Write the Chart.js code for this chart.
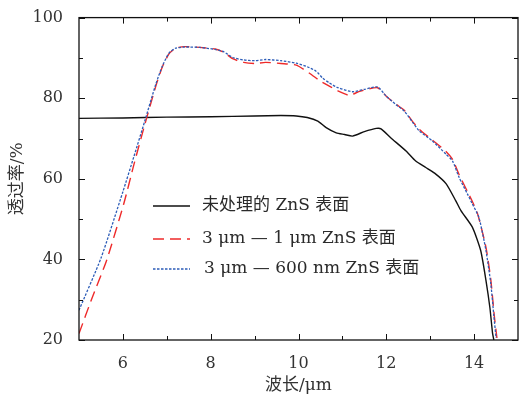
<!DOCTYPE html>
<html>
<head>
<meta charset="utf-8">
<script src="https://cdn.jsdelivr.net/npm/chart.js@4/dist/chart.umd.min.js"></script>
<style>
  body { margin: 0; background: #fff; }
  #wrap { width: 523px; height: 399px; }
</style>
</head>
<body>
<div id="wrap"><canvas id="chart" width="523" height="399"></canvas></div>
<script>
// Daten
const xTicks = [6, 8, 10, 12, 14];
const yTicks = [20, 40, 60, 80, 100];
const xMinor = [7, 9, 11, 13];
const yMinor = [30, 50, 70, 90];

const labels = ["未处理的 ZnS 表面", "3 μm — 1 μm ZnS 表面", "3 μm — 600 nm ZnS 表面"];

const rawX = [5.0, 6.0, 7.0, 8.0, 9.0, 9.6, 9.95, 10.2, 10.44, 10.63, 10.86, 11.05, 11.23, 11.5, 11.77, 11.88, 12.1, 12.45, 12.67, 12.9, 13.1, 13.36, 13.58, 13.7, 13.96, 14.15, 14.27, 14.36, 14.42, 14.45];
const rawY = [75.0, 75.1, 75.3, 75.4, 75.6, 75.7, 75.6, 75.2, 74.3, 72.7, 71.4, 71.0, 70.6, 71.7, 72.5, 72.4, 70.2, 66.9, 64.4, 62.8, 61.4, 58.8, 54.6, 52.1, 48.0, 42.2, 34.8, 28.0, 21.7, 20.0];

const umX = [5.0, 5.3, 5.63, 6.02, 6.25, 6.5, 6.75, 6.9, 7.05, 7.2, 7.4, 7.75, 8.1, 8.3, 8.5, 8.75, 9.0, 9.25, 9.6, 9.95, 10.25, 10.5, 10.7, 10.9, 11.16, 11.39, 11.8, 12.0, 12.22, 12.41, 12.6, 12.75, 13.05, 13.36, 13.51, 13.66, 13.85, 13.95, 14.08, 14.27, 14.38, 14.46, 14.52];
const umY = [21.6, 30.5, 39.8, 53.8, 63.5, 73.5, 83.0, 87.8, 91.0, 92.4, 92.8, 92.6, 92.2, 91.4, 89.8, 88.9, 88.6, 88.9, 88.6, 88.2, 86.2, 84.2, 83.0, 81.8, 80.7, 81.7, 82.6, 80.5, 78.5, 77.0, 74.2, 72.3, 69.6, 66.8, 64.8, 61.0, 56.8, 54.6, 51.3, 43.0, 35.0, 26.0, 20.5];

const nmX = [5.0, 5.5, 6.0, 6.25, 6.5, 6.75, 6.9, 7.05, 7.2, 7.4, 7.75, 8.1, 8.3, 8.5, 8.75, 9.0, 9.25, 9.6, 9.95, 10.2, 10.4, 10.55, 10.7, 10.9, 11.23, 11.5, 11.8, 12.0, 12.22, 12.41, 12.6, 12.75, 13.05, 13.36, 13.51, 13.66, 13.85, 13.95, 14.11, 14.27, 14.38, 14.45, 14.5];
const nmY = [27.4, 40.3, 56.8, 65.5, 74.4, 83.5, 88.0, 91.2, 92.4, 92.7, 92.6, 92.1, 91.5, 90.1, 89.5, 89.3, 89.6, 89.3, 88.7, 87.8, 86.7, 85.0, 83.8, 82.6, 81.6, 82.2, 82.8, 80.5, 78.4, 76.8, 74.0, 71.9, 69.4, 66.1, 64.4, 60.3, 56.2, 54.0, 50.4, 42.2, 34.0, 26.0, 20.5];

const pts = (xs, ys) => xs.map((x, i) => ({ x: x, y: ys[i] }));

const SERIF = '"DejaVu Serif", "Noto Sans CJK SC", serif';

// Ticks nach innen, Rahmen, Legende
const framePlugin = {
  id: "frame",
  afterDraw(chart) {
    const { ctx, chartArea: a, scales } = chart;
    const sx = scales.x, sy = scales.y;
    ctx.save();
    ctx.strokeStyle = "#111";
    ctx.lineWidth = 1.3;
    ctx.strokeRect(a.left, a.top, a.right - a.left, a.bottom - a.top);
    ctx.lineWidth = 1;
    ctx.beginPath();
    const tx = (v, len) => {
      const p = Math.round(sx.getPixelForValue(v)) + 0.5;
      ctx.moveTo(p, a.bottom); ctx.lineTo(p, a.bottom - len);
      ctx.moveTo(p, a.top); ctx.lineTo(p, a.top + len);
    };
    const ty = (v, len) => {
      const p = Math.round(sy.getPixelForValue(v)) + 0.5;
      ctx.moveTo(a.left, p); ctx.lineTo(a.left + len, p);
      ctx.moveTo(a.right, p); ctx.lineTo(a.right - len, p);
    };
    xTicks.forEach(v => tx(v, 6));
    xMinor.forEach(v => tx(v, 4));
    yTicks.forEach(v => ty(v, 6));
    yMinor.forEach(v => ty(v, 4));
    ctx.stroke();

    // Legende
    const rows = [206, 239, 269];
    ctx.font = "17px " + SERIF;
    ctx.textBaseline = "middle";
    chart.data.datasets.forEach((ds, i) => {
      ctx.beginPath();
      ctx.strokeStyle = ds.borderColor;
      ctx.lineWidth = ds.borderWidth;
      ctx.setLineDash(ds.borderDash || []);
      ctx.moveTo(153, rows[i]); ctx.lineTo(190, rows[i]);
      ctx.stroke();
      ctx.setLineDash([]);
      ctx.fillStyle = "#2a2a2a";
      ctx.fillText(ds.label, i === 2 ? 204 : 202, rows[i]);
    });
    ctx.restore();
  }
};

new Chart(document.getElementById("chart").getContext("2d"), {
  type: "line",
  data: {
    datasets: [
      { label: labels[0], data: pts(rawX, rawY), borderColor: "#111111", borderWidth: 1.4, order: 2 },
      { label: labels[1], data: pts(umX, umY), borderColor: "#ee2a2a", borderWidth: 1.4, borderDash: [11, 6], order: 1 },
      { label: labels[2], data: pts(nmX, nmY), borderColor: "#2c5cb8", borderWidth: 1.3, borderDash: [2.5, 1.5], order: 0 }
    ]
  },
  options: {
    responsive: false,
    animation: false,
    layout: { padding: { left: 0, top: 16, right: 5, bottom: 0 } },
    elements: { point: { radius: 0 }, line: { tension: 0.2, fill: false } },
    plugins: { legend: { display: false }, tooltip: { enabled: false } },
    scales: {
      x: {
        type: "linear", min: 5, max: 15,
        afterBuildTicks: s => { s.ticks = xTicks.map(v => ({ value: v })); },
        afterFit: s => { s.height = 59; },
        grid: { display: false },
        border: { display: false },
        ticks: { color: "#333", font: { family: SERIF, size: 16 }, padding: 6, maxRotation: 0 },
        title: { display: true, text: "波长/μm", color: "#333", font: { family: SERIF, size: 17 }, padding: 3 }
      },
      y: {
        min: 20, max: 100,
        afterBuildTicks: s => { s.ticks = yTicks.map(v => ({ value: v })); },
        afterFit: s => { s.width = 79; },
        grid: { display: false },
        border: { display: false },
        ticks: { color: "#333", font: { family: SERIF, size: 16 }, padding: 8 },
        title: { display: true, text: "透过率/%", color: "#333", font: { family: SERIF, size: 17 }, padding: 7 }
      }
    }
  },
  plugins: [framePlugin]
});
</script>
</body>
</html>
